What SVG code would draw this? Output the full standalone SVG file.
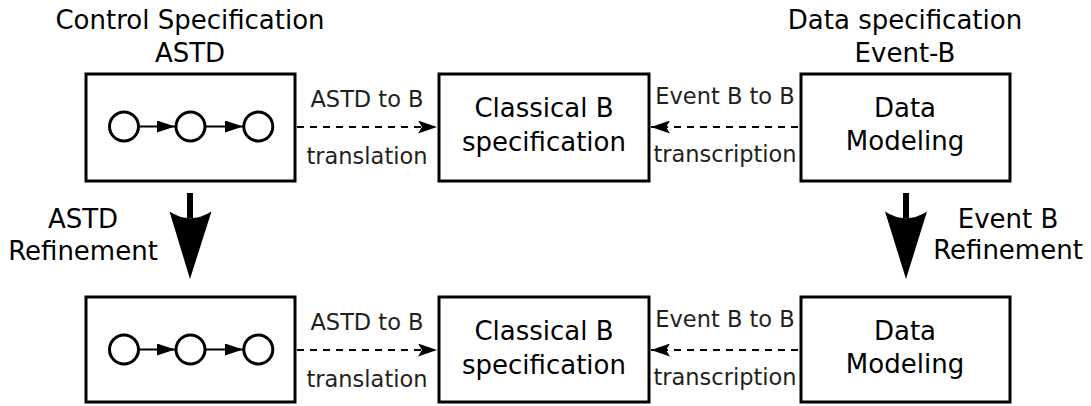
<svg xmlns="http://www.w3.org/2000/svg" width="1091" height="406" viewBox="0 0 1091 406">
<style>
.box{fill:#fff;stroke:#000;stroke-width:3}
.t{font-family:"DejaVu Sans",sans-serif;fill:#000;text-anchor:middle}
.big{font-size:26px}
.lab{font-size:22.5px;fill:#231f20}
.st{fill:#fff;stroke:#000;stroke-width:3}
.sa{stroke:#000;stroke-width:2;fill:none}
.dash{stroke:#000;stroke-width:1.8;stroke-dasharray:7,6;fill:none}
</style>
<defs>
<marker id="ah" markerWidth="19" markerHeight="13" refX="19" refY="6.5" orient="auto" markerUnits="userSpaceOnUse">
<path d="M0,0 L19,6.5 L0,13 L4,6.5 Z" fill="#000"/>
</marker>
<marker id="sh" markerWidth="19" markerHeight="12" refX="18" refY="6" orient="auto" markerUnits="userSpaceOnUse">
<path d="M0,0 L18,6 L0,12 Z" fill="#000"/>
</marker>
<g id="seq">
<circle class="st" cx="124" cy="0" r="14.5"/>
<circle class="st" cx="190.5" cy="0" r="14.5"/>
<circle class="st" cx="258.3" cy="0" r="14.5"/>
<line class="sa" x1="139" y1="0" x2="175" y2="0" marker-end="url(#sh)"/>
<line class="sa" x1="205.5" y1="0" x2="243" y2="0" marker-end="url(#sh)"/>
</g>
</defs>

<text class="t big" x="190" y="29">Control Specification</text>
<text class="t big" x="190" y="62">ASTD</text>
<text class="t big" x="905" y="29">Data specification</text>
<text class="t big" x="905" y="62">Event-B</text>

<g id="astd1">
<rect class="box" x="86" y="74" width="209" height="107"/>
<use href="#seq" y="126.5"/>
</g>
<g id="classB1">
<rect class="box" x="439" y="74" width="210" height="107"/>
<text class="t big" x="544" y="117">Classical B</text>
<text class="t big" x="544" y="151">specification</text>
</g>
<g id="data1">
<rect class="box" x="801" y="74" width="209" height="107"/>
<text class="t big" x="905" y="117">Data</text>
<text class="t big" x="905" y="150">Modeling</text>
</g>

<g id="astd2">
<rect class="box" x="86" y="297" width="209" height="105"/>
<use href="#seq" y="349.5"/>
</g>
<g id="classB2">
<rect class="box" x="439" y="297" width="210" height="105"/>
<text class="t big" x="544" y="340">Classical B</text>
<text class="t big" x="544" y="374">specification</text>
</g>
<g id="data2">
<rect class="box" x="801" y="297" width="209" height="105"/>
<text class="t big" x="905" y="340">Data</text>
<text class="t big" x="905" y="373">Modeling</text>
</g>

<g id="connectors">
<line class="dash" x1="297" y1="127" x2="437" y2="127" marker-end="url(#ah)"/>
<line class="dash" x1="798" y1="127" x2="651" y2="127" marker-end="url(#ah)"/>
<line class="dash" x1="297" y1="350" x2="437" y2="350" marker-end="url(#ah)"/>
<line class="dash" x1="798" y1="350" x2="651" y2="350" marker-end="url(#ah)"/>
<rect x="187" y="193" width="6" height="25" fill="#000"/>
<path d="M190,279 L169.5,211.5 Q190,225 211.5,211.5 Z" fill="#000"/>
<rect x="903" y="193" width="6" height="25" fill="#000"/>
<path d="M906,279 L885,211.5 Q906,225 927,211.5 Z" fill="#000"/>
</g>

<text class="t lab" x="367" y="107">ASTD to B</text>
<text class="t lab" x="367" y="164">translation</text>
<text class="t lab" x="725" y="104">Event B to B</text>
<text class="t lab" x="725" y="162">transcription</text>
<text class="t lab" x="367" y="330">ASTD to B</text>
<text class="t lab" x="367" y="387">translation</text>
<text class="t lab" x="725" y="327">Event B to B</text>
<text class="t lab" x="725" y="385">transcription</text>

<text class="t big" x="83" y="228">ASTD</text>
<text class="t big" x="83" y="260">Refinement</text>
<text class="t big" x="1008" y="228">Event B</text>
<text class="t big" x="1008" y="259">Refinement</text>
</svg>
